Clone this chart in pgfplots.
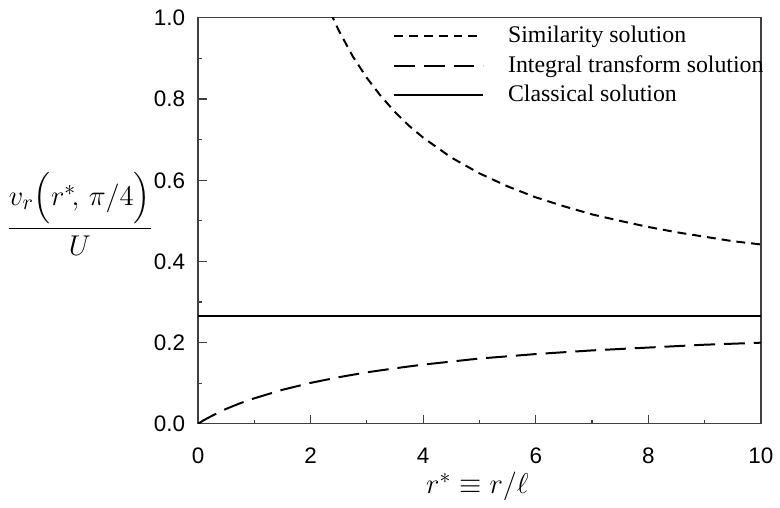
\documentclass[border=0pt]{standalone}
\usepackage{amsmath}
\usepackage{fontspec}
\setmainfont{Liberation Serif}
\setsansfont{Liberation Sans}
\usepackage{pgfplots}
\pgfplotsset{compat=1.18}

\begin{document}
\begin{tikzpicture}
\begin{axis}[
  scale only axis,
  width=283.5pt, height=204.5pt,
  xmin=0, xmax=10, ymin=0, ymax=1.0,
  xtick={0,2,...,10}, ytick={0,0.2,...,1.0},
  minor tick num=1,
  tick pos=left, tick align=inside,
  major tick length=4.5pt, minor tick length=2.2pt,
  axis line style={draw=black!75, line width=0.6pt},
  every tick/.style={draw=black!75, line width=0.6pt},
  /pgf/number format/assume math mode=true,
  ticklabel style={font=\fontsize{11.3}{13}\selectfont\sffamily},
  yticklabel style={/pgf/number format/fixed, /pgf/number format/precision=1,
    /pgf/number format/fixed zerofill, xshift=-3pt},
  xticklabel style={yshift=-8.5pt},
  clip=true,
  legend style={draw=none, fill=none, at={(0.335,1.0)}, anchor=north west,
    font=\fontsize{12}{14}\selectfont, row sep=1pt},
  legend cell align=left,
  legend image code/.code={\draw[#1] (0pt,0pt) -- (45pt,0pt);
    \path (55pt,0pt);},
]
\addplot[black, line width=1pt, dash pattern=on 4.5pt off 3pt] coordinates {
  (2.35,1.014)(2.5,0.969)(2.75,0.905)(3.0,0.852)(3.25,0.807)(3.5,0.768)
  (3.75,0.734)(4.0,0.705)(4.5,0.656)(5.0,0.617)(5.5,0.585)(6.0,0.558)
  (6.5,0.536)(7.0,0.516)(7.5,0.500)(8.0,0.485)(8.5,0.472)(9.0,0.461)
  (9.5,0.450)(10.0,0.442)};
\addlegendentry{Similarity solution}

\addplot[black, line width=1pt, dash pattern=on 10.5pt off 4.5pt] coordinates {
  (0,0)(0.1,0.009)(0.25,0.020)(0.5,0.037)(0.75,0.051)(1,0.063)(1.5,0.084)
  (2,0.101)(2.5,0.115)(3,0.127)(3.5,0.137)(4,0.146)(5,0.161)(6,0.172)
  (7,0.181)(8,0.188)(9,0.195)(10,0.200)};
\addlegendentry{Integral transform solution}

\addplot[black, line width=1pt] coordinates {(0,0.2655)(10,0.2655)};
\addlegendentry{Classical solution}
\end{axis}
% labels
\node[font=\fontsize{15}{18}\selectfont] at ([xshift=-59.5pt,yshift=3.5pt]current axis.west)
  {$\dfrac{v_r\Bigl(r^{*}\!,\,\pi/4\Bigr)}{U}$};
\node[font=\fontsize{15}{18}\selectfont] at ([xshift=-1pt,yshift=-31.5pt]current axis.south)
  {$r^{*} \equiv r/\ell$};
\path ([xshift=-99.5pt,yshift=-40.5pt]current axis.south west)
  rectangle ([xshift=7pt,yshift=9pt]current axis.north east);
\end{tikzpicture}
\end{document}
